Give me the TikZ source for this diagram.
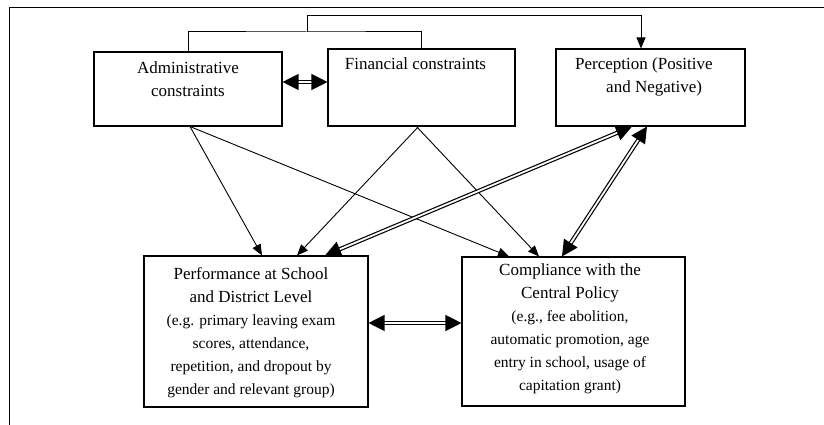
\documentclass[tikz,border=0pt]{standalone}
\usepackage{fontspec}
\setmainfont{Liberation Serif}
\usetikzlibrary{arrows.meta}
\newcommand{\egsize}{\fontsize{15.5}{23}\selectfont}

\tikzset{
	box/.style={draw, line width=1.1pt, rectangle, inner sep=0pt},
	txt/.style={anchor=north, inner sep=0pt, align=center, font=\fontsize{17}{23}\selectfont},
	arr/.style={line width=0.9pt, -{Triangle[length=11pt,width=9pt]}},
	dbl/.style={double, double distance=1.8pt, line width=1.2pt,
		{Triangle[length=16pt,width=16pt]}-{Triangle[length=16pt,width=16pt]}}
}

\begin{document}
\begin{tikzpicture}[x=1pt, y=-1pt]
			%%%%% START %%%%%
			\useasboundingbox (0,0) rectangle (824,425);
			\draw[line width=1pt] (9,425) -- (9,8) -- (824,8);
			
			% top row
			\node[box, minimum width=188, minimum height=74] (adm) at (188,89) {};
			\node[box, minimum width=187, minimum height=77] (fin) at (421.5,87.5) {};
			\node[box, minimum width=189, minimum height=77] (per) at (650.5,87.5) {};
			
			\node[txt] (admtxt) at (188,61.5) {Administrative\\constraints};
			\node[txt] (fintxt) at (415.5,57.5) {Financial constraints};
			\node[txt, align=left, anchor=north west] (pertxt) at (575,57.5) {Perception (Positive\\\hspace*{31pt}and Negative)};
			
			% bottom row
			\node[box, minimum width=224, minimum height=151] (perf) at (256,331.5) {};
			\node[box, minimum width=223, minimum height=149] (comp) at (573.5,331.5) {};
			
			\node[txt] (perftxt) at (251,267) {Performance at School\\and District Level\\{\egsize (e.g. primary leaving exam}\\{\egsize scores, attendance,}\\{\egsize repetition, and dropout by}\\{\egsize gender and relevant group)}};
			\node[txt] (comptxt) at (570,264) {Compliance with the\\Central Policy\\{\egsize (e.g., fee abolition,}\\{\egsize automatic promotion, age}\\{\egsize entry in school, usage of}\\{\egsize capitation grant)}};
			
			% bracket over the constraints
			\coordinate (brk) at (307,32);
			\coordinate (brktop) at (307,15);
			\draw[line width=1pt] (adm.north) |- (brk) -| (fin.north);
			\draw[arr] (brk) -- (brktop) -| ([xshift=-9.5]per.north);
			
			% single arrows
			\draw[arr] ([xshift=2]adm.south) -- ([xshift=6]perf.north);
			\draw[arr] ([xshift=2]adm.south) -- ([xshift=-64.5]comp.north);
			\draw[arr] ([xshift=-3]fin.south) -- ([xshift=41]perf.north);
			\draw[arr] ([xshift=-5]fin.south) -- ([xshift=-34.5]comp.north);
			
			% double arrows
			\draw[dbl] ([yshift=7]adm.east) -- ([yshift=7]adm.east -| fin.west);
			\draw[dbl] ([xshift=-18.5]per.south) -- ([xshift=69]perf.north);
			\draw[dbl] ([xshift=-3.5]per.south) -- ([xshift=-11.5]comp.north);
			\draw[dbl] ([yshift=8.5]perf.east) -- ([yshift=8.5]perf.east -| comp.west);
			%%%%% END %%%%%
\end{tikzpicture}
\end{document}
